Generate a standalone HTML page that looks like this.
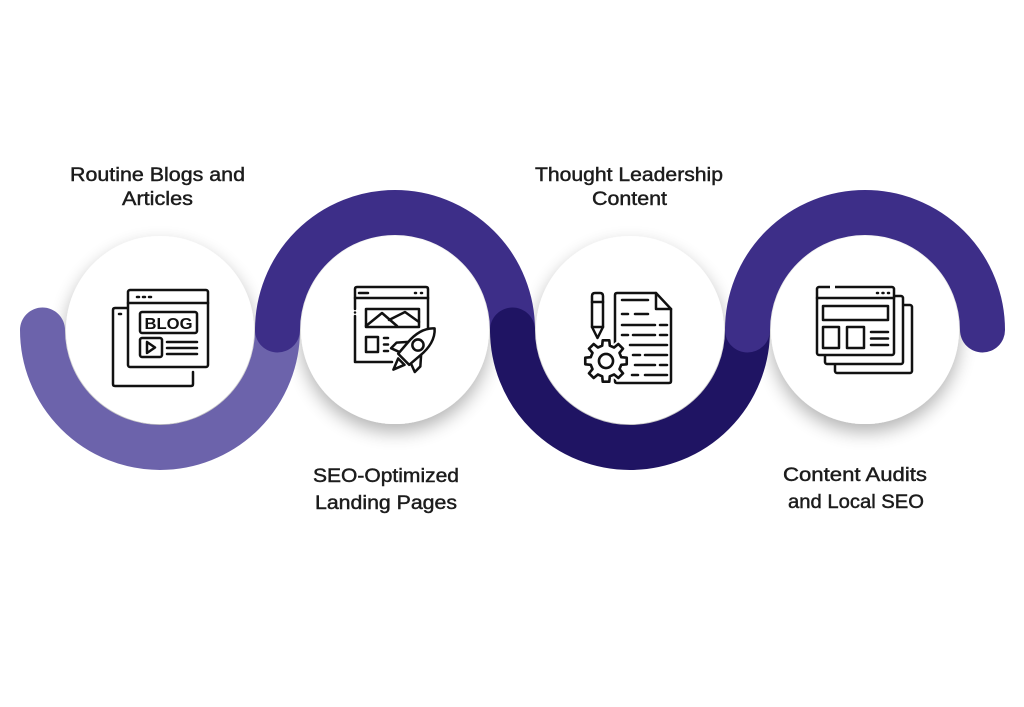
<!DOCTYPE html>
<html><head><meta charset="utf-8"><style>
html,body{margin:0;padding:0;background:#fff;}
svg{display:block}
.lbl{font-family:"Liberation Sans",sans-serif;font-size:19px;fill:#1c1c1c;stroke:#1c1c1c;stroke-width:0.45px;}
</style></head><body>
<svg width="1024" height="707" viewBox="0 0 1024 707" xmlns="http://www.w3.org/2000/svg">
<defs>
<filter id="sh" x="-30%" y="-30%" width="160%" height="160%">
<feGaussianBlur in="SourceAlpha" stdDeviation="9"/>
<feOffset dx="0" dy="8" result="b"/>
<feComponentTransfer><feFuncA type="linear" slope="0.3"/></feComponentTransfer>
<feMerge><feMergeNode/><feMergeNode in="SourceGraphic"/></feMerge>
</filter>
</defs>
<rect width="1024" height="707" fill="#fff"/>

<g filter="url(#sh)" fill="#fff">
<circle cx="160" cy="330" r="94"/>
<circle cx="395" cy="330" r="94"/>
<circle cx="630" cy="330" r="94"/>
<circle cx="865" cy="330" r="94"/>
</g>

<g fill="none" stroke-width="45" stroke-linecap="round">
<path d="M42.5,330 A117.5,117.5 0 0 0 277.5,330" stroke="#6c63ab"/>
<path d="M277.5,330 A117.5,117.5 0 0 1 512.5,330" stroke="#3d2e88"/>
<path d="M512.5,330 A117.5,117.5 0 0 0 747.5,330" stroke="#1f1463"/>
<path d="M747.5,330 A117.5,117.5 0 0 1 982.5,330" stroke="#3d2e88"/>
</g>

<text class="lbl" x="157.5" y="181" text-anchor="middle" textLength="175" lengthAdjust="spacingAndGlyphs">Routine Blogs and</text>
<text class="lbl" x="157.5" y="205" text-anchor="middle" textLength="71" lengthAdjust="spacingAndGlyphs">Articles</text>
<text class="lbl" x="629" y="181" text-anchor="middle" textLength="188" lengthAdjust="spacingAndGlyphs">Thought Leadership</text>
<text class="lbl" x="629.5" y="205" text-anchor="middle" textLength="75" lengthAdjust="spacingAndGlyphs">Content</text>
<text class="lbl" x="386" y="482" text-anchor="middle" textLength="146" lengthAdjust="spacingAndGlyphs">SEO-Optimized</text>
<text class="lbl" x="386" y="509" text-anchor="middle" textLength="142" lengthAdjust="spacingAndGlyphs">Landing Pages</text>
<text class="lbl" x="855" y="481" text-anchor="middle" textLength="144" lengthAdjust="spacingAndGlyphs">Content Audits</text>
<text class="lbl" x="856" y="508" text-anchor="middle" textLength="136" lengthAdjust="spacingAndGlyphs">and Local SEO</text>

<g fill="none" stroke="#111" stroke-width="2.5" stroke-linejoin="round" stroke-linecap="round">
<path d="M128,308 L115,308 Q113,308 113,310 L113,384 Q113,386 115,386 L191,386 Q193,386 193,384 L193,372"/>
<path d="M119,314 L121,314"/>
<rect x="128" y="290" width="80" height="77" rx="2" fill="#fff"/>
<path d="M128,303 L208,303"/>
<path d="M137,297 L139,297 M143,297 L145,297 M149,297 L151,297"/>
<rect x="140" y="312" width="57" height="21" rx="2"/>
<rect x="140" y="338" width="22" height="19" rx="2"/>
<path d="M147,342 L147,353 L155,347.5 Z"/>
<path d="M167,342 L197,342 M167,348 L197,348 M167,354 L197,354"/>
</g>
<text x="168.5" y="329" text-anchor="middle" font-family="Liberation Sans, sans-serif" font-weight="bold" font-size="16" fill="#111" textLength="48" lengthAdjust="spacingAndGlyphs">BLOG</text>

<g fill="none" stroke="#111" stroke-width="2.5" stroke-linejoin="round" stroke-linecap="round">
<path d="M392,362 L355,362 L355,316 M355,309 L355,289 Q355,287 357,287 L426,287 Q428,287 428,289 L428,330"/>
<path d="M355,312.5 L355,312.5"/>
<path d="M355,298 L428,298"/>
<path d="M359,293 L368,293 M415,293 L416,293 M421,293 L422,293"/>
<rect x="366" y="309" width="53" height="18"/>
<path d="M366,326 L382,313 L397,326 M389,320 L405,312 L419,322"/>
<rect x="366" y="337" width="12" height="15"/>
<path d="M384,338 L388,338 M384,344.5 L388,344.5 M384,351 L388,351"/>
<g transform="translate(414,349) rotate(45) scale(1.12)" stroke-width="2.25">
<path d="M-8,-1 L-15,7 L-15,14 L-7,11" fill="#fff"/>
<path d="M8,-1 L15,7 L15,14 L7,11" fill="#fff"/>
<path d="M-4,16 L0,26 L4,16 Z" fill="#fff"/>
<path d="M0,-26 C7,-20 9,-10 8,0 L7,13 L-7,13 L-8,0 C-9,-10 -7,-20 0,-26 Z" fill="#fff"/>
<circle cx="0" cy="-5" r="5"/>
</g>
</g>

<g fill="none" stroke="#111" stroke-width="2.5" stroke-linejoin="round" stroke-linecap="round">
<path d="M592,327 L592,296 Q592,293 595,293 L600,293 Q603,293 603,296 L603,327 L597.5,338 Z"/>
<path d="M592,302 L603,302 M592,327 L603,327"/>
<path d="M617,293 L656,293 L671,309 L671,381 Q671,383 669,383 L617,383 Q615,383 615,381 L615,295 Q615,293 617,293 Z"/>
<path d="M656,293 L656,309 L671,309"/>
<path d="M622,300 L648,300"/>
<path d="M622,314 L628,314 M635,314 L648,314"/>
<path d="M622,325 L655,325 M660,325 L667,325"/>
<path d="M622,335 L628,335 M633,335 L655,335 M660,335 L667,335"/>
<path d="M630,345 L667,345"/>
<path d="M633,355 L640,355 M645,355 L667,355"/>
<path d="M635,365 L655,365 M660,365 L667,365"/>
<path d="M632,375 L638,375 M645,375 L667,375"/>
<g transform="translate(606,361) scale(1.05)">
<polygon stroke="#fff" stroke-width="6" fill="#fff" points="14.55,-3.63 19.75,-3.13 19.75,3.13 14.55,3.63 12.86,7.73 16.18,11.76 11.76,16.18 7.73,12.86 3.63,14.55 3.13,19.75 -3.13,19.75 -3.63,14.55 -7.73,12.86 -11.76,16.18 -16.18,11.76 -12.86,7.73 -14.55,3.63 -19.75,3.13 -19.75,-3.13 -14.55,-3.63 -12.86,-7.73 -16.18,-11.76 -11.76,-16.18 -7.73,-12.86 -3.63,-14.55 -3.13,-19.75 3.13,-19.75 3.63,-14.55 7.73,-12.86 11.76,-16.18 16.18,-11.76 12.86,-7.73"/>
<polygon fill="#fff" points="14.55,-3.63 19.75,-3.13 19.75,3.13 14.55,3.63 12.86,7.73 16.18,11.76 11.76,16.18 7.73,12.86 3.63,14.55 3.13,19.75 -3.13,19.75 -3.63,14.55 -7.73,12.86 -11.76,16.18 -16.18,11.76 -12.86,7.73 -14.55,3.63 -19.75,3.13 -19.75,-3.13 -14.55,-3.63 -12.86,-7.73 -16.18,-11.76 -11.76,-16.18 -7.73,-12.86 -3.63,-14.55 -3.13,-19.75 3.13,-19.75 3.63,-14.55 7.73,-12.86 11.76,-16.18 16.18,-11.76 12.86,-7.73"/>
<circle cx="0" cy="0" r="6.7"/>
</g>
</g>

<g fill="none" stroke="#111" stroke-width="2.5" stroke-linejoin="round" stroke-linecap="round">
<rect x="835" y="305" width="77" height="68" rx="2" fill="#fff"/>
<rect x="825" y="296" width="78" height="68" rx="2" fill="#fff"/>
<rect x="817" y="287" width="77" height="68" rx="2" fill="#fff"/>
<path d="M817,298 L894,298"/>
<path d="M877,293 L878,293 M882.5,293 L883.5,293 M888,293 L889,293"/>
<rect x="823" y="306" width="65" height="14"/>
<rect x="823" y="327" width="16" height="21"/>
<rect x="847" y="327" width="17" height="21"/>
<path d="M871,332 L888,332 M871,338.5 L888,338.5 M871,345 L888,345"/>
</g>
<path d="M830,287 L835,287" stroke="#fff" stroke-width="3"/>
</svg>
</body></html>
